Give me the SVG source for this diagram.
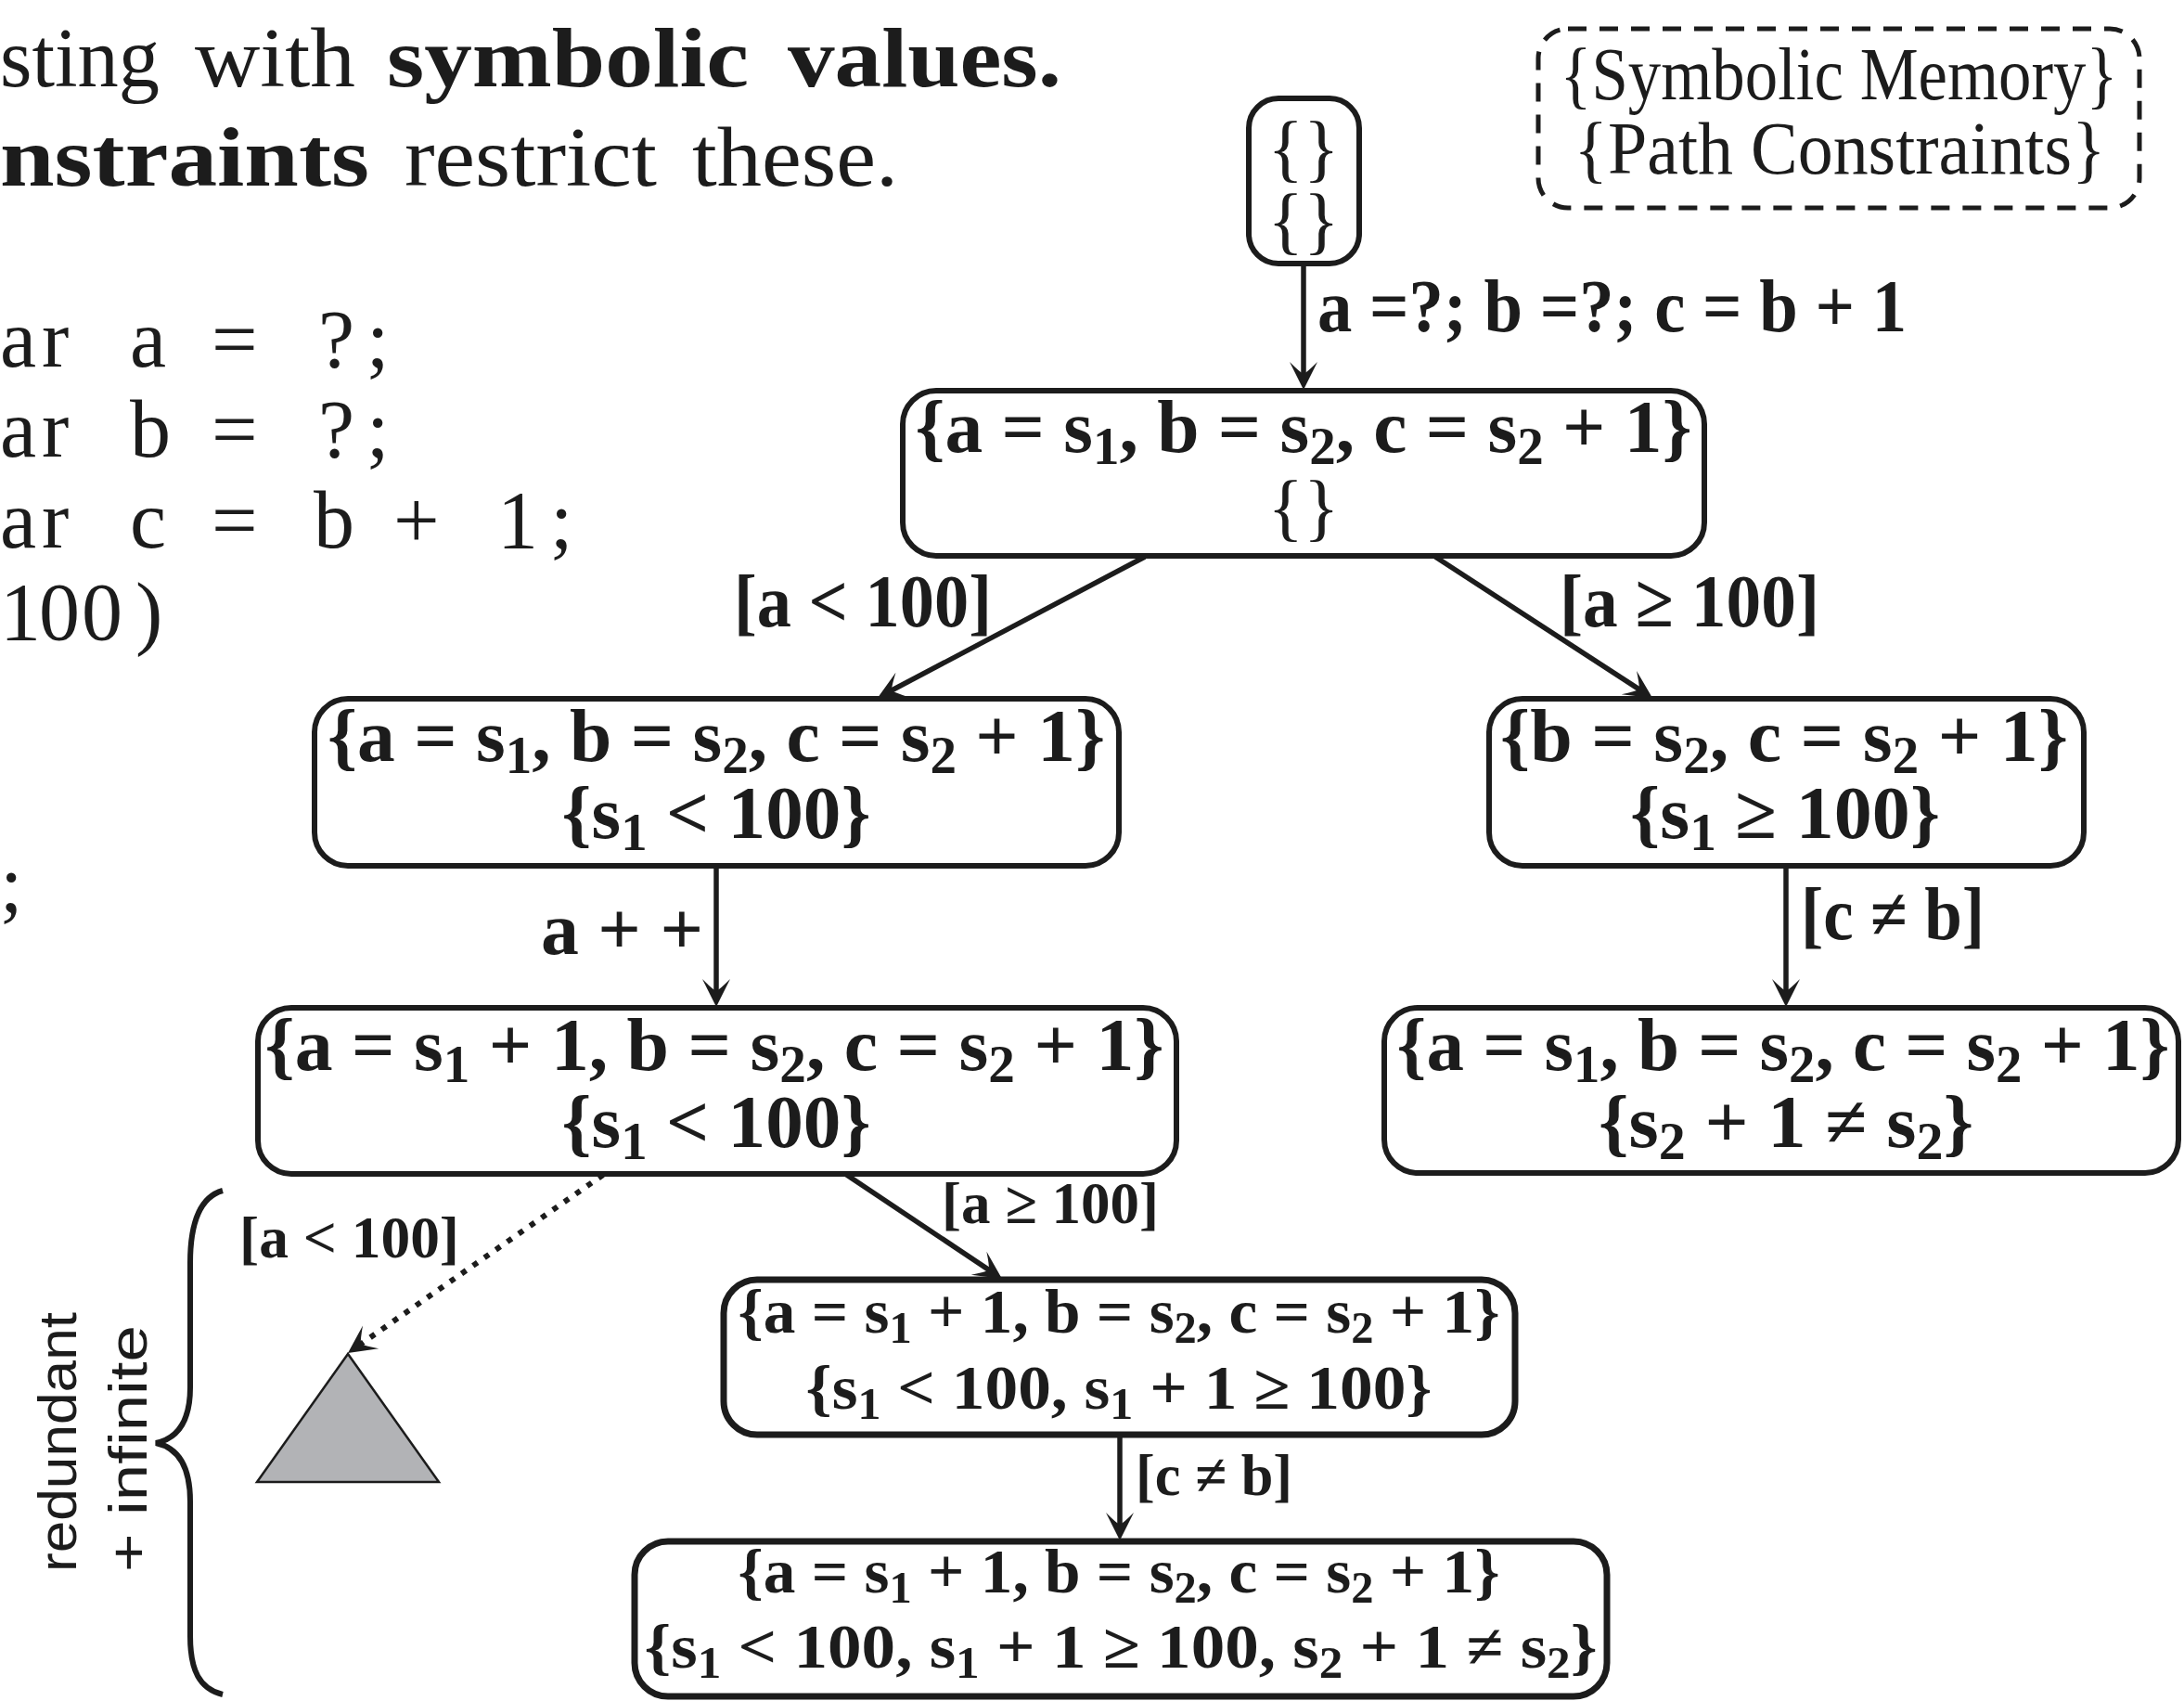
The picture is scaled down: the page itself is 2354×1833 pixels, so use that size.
<svg xmlns="http://www.w3.org/2000/svg" width="2354" height="1833" viewBox="0 0 2354 1833">
<style>
.t{font-family:"Liberation Serif",serif;fill:#1c1c1c}
.m{font-family:"Liberation Serif",serif;font-weight:bold;font-size:80px;text-anchor:middle;fill:#1c1c1c}
.sm{font-size:68px}
.n{font-weight:normal}
.lab{font-family:"Liberation Serif",serif;font-weight:bold;font-size:80px;fill:#1c1c1c}
.lab2{font-size:64px}
.sub{font-size:70%;baseline-shift:-13px}
.sm .sub{baseline-shift:-11px}
.box{fill:#fff;stroke:#1c1c1c;stroke-width:6}
.box2{fill:#fff;stroke:#1c1c1c;stroke-width:7}
.edge{fill:none;stroke:#1c1c1c;stroke-width:5.5;marker-end:url(#ah)}
.dot{stroke-dasharray:6 9;stroke-width:6}
.code{font-family:"Liberation Serif",serif;font-size:88px;fill:#1c1c1c}
.sans{font-family:"Liberation Sans",sans-serif;font-size:58px;fill:#1c1c1c}
</style>
<defs>
<marker id="ah" viewBox="-22 -16 34 32" refX="0" refY="0" markerWidth="34" markerHeight="32" markerUnits="userSpaceOnUse" orient="auto">
<path d="M10,0 L-20,-15 Q-9,-4 -7,0 Q-9,4 -20,15 Z" fill="#1c1c1c"/>
</marker>
</defs>
<rect width="2354" height="1833" fill="#fff"/>

<g id="heading">
<text class="t" font-size="90" y="93"><tspan x="0" textLength="172" lengthAdjust="spacingAndGlyphs">sting</tspan> <tspan x="210" textLength="173" lengthAdjust="spacingAndGlyphs">with</tspan> <tspan x="417" font-weight="bold" textLength="390" lengthAdjust="spacingAndGlyphs">symbolic</tspan> <tspan x="849" font-weight="bold" textLength="295" lengthAdjust="spacingAndGlyphs">values.</tspan></text>
<text class="t" font-size="90" y="200"><tspan x="0" font-weight="bold" textLength="398" lengthAdjust="spacingAndGlyphs">nstraints</tspan> <tspan x="436" textLength="272" lengthAdjust="spacingAndGlyphs">restrict</tspan> <tspan x="746" textLength="222" lengthAdjust="spacingAndGlyphs">these.</tspan></text>
</g>

<g id="code">
<text class="code" y="395" x="0 45 95 140 190 228 300 343 395" xml:space="preserve">ar a = ?;</text>
<text class="code" y="492" x="0 45 95 140 190 228 300 343 395" xml:space="preserve">ar b = ?;</text>
<text class="code" y="590" x="0 45 95 140 190 228 300 338 390 424 500 536 593" xml:space="preserve">ar c = b + 1;</text>
<text class="code" y="689" x="0 42 88 146">100)</text>
<text class="code" y="982" x="0">;</text>
</g>

<g id="legend">
<rect x="1658" y="31" width="648" height="193" rx="32" fill="none" stroke="#1c1c1c" stroke-width="5" stroke-dasharray="20 14"/>
<text class="m n" font-size="74" x="1982" y="107" textLength="601" lengthAdjust="spacingAndGlyphs">{Symbolic Memory}</text>
<text class="m n" font-size="74" x="1983" y="187" textLength="573" lengthAdjust="spacingAndGlyphs">{Path Constraints}</text>
</g>

<g id="connectors">
<path class="edge" d="M1405,284 V410"/>
<path class="edge" d="M1234,600 L954.8,747.3"/>
<path class="edge" d="M1547,600 L1772.6,746.6"/>
<path class="edge" d="M772,933 V1075"/>
<path class="edge" d="M1925,933 V1075"/>
<path class="edge" d="M911,1265 L1071.7,1372.4"/>
<path class="edge dot" d="M650,1266 L383.2,1452.3"/>
<path class="edge" d="M1207,1547 V1650"/>
<text class="lab" font-size="75" x="1420" y="357" textLength="635" lengthAdjust="spacingAndGlyphs">a =?; b =?; c = b + 1</text>
<text class="lab" x="791" y="675" textLength="278" lengthAdjust="spacingAndGlyphs">[a &lt; 100]</text>
<text class="lab" x="1681" y="675" textLength="280" lengthAdjust="spacingAndGlyphs">[a ≥ 100]</text>
<text class="lab" x="583" y="1028" textLength="175" lengthAdjust="spacingAndGlyphs">a + +</text>
<text class="lab" x="1941" y="1012" textLength="198" lengthAdjust="spacingAndGlyphs">[c ≠ b]</text>
<text class="lab lab2" x="258" y="1355" textLength="237" lengthAdjust="spacingAndGlyphs">[a &lt; 100]</text>
<text class="lab lab2" x="1015" y="1318" textLength="234" lengthAdjust="spacingAndGlyphs">[a ≥ 100]</text>
<text class="lab lab2" x="1224" y="1611" textLength="169" lengthAdjust="spacingAndGlyphs">[c ≠ b]</text>
</g>

<g id="root">
<rect class="box" x="1346" y="106" width="119" height="178" rx="32"/>
<text class="m n" font-size="78" x="1405" y="186">{}</text>
<text class="m n" font-size="78" x="1405" y="264">{}</text>
</g>

<g id="n1">
<rect class="box" x="973" y="421" width="864" height="178" rx="36"/>
<text class="m" x="1405" y="487" textLength="837" lengthAdjust="spacingAndGlyphs">{a = s<tspan class="sub">1</tspan>, b = s<tspan class="sub">2</tspan>, c = s<tspan class="sub">2</tspan> + 1}</text>
<text class="m n" x="1405" y="573">{}</text>
</g>

<g id="n2">
<rect class="box" x="339" y="753" width="867" height="180" rx="36"/>
<text class="m" x="772" y="820" textLength="838" lengthAdjust="spacingAndGlyphs">{a = s<tspan class="sub">1</tspan>, b = s<tspan class="sub">2</tspan>, c = s<tspan class="sub">2</tspan> + 1}</text>
<text class="m" x="772" y="903" textLength="333" lengthAdjust="spacingAndGlyphs">{s<tspan class="sub">1</tspan> &lt; 100}</text>
</g>

<g id="n3">
<rect class="box" x="1605" y="753" width="641" height="180" rx="36"/>
<text class="m" x="1923" y="820" textLength="612" lengthAdjust="spacingAndGlyphs">{b = s<tspan class="sub">2</tspan>, c = s<tspan class="sub">2</tspan> + 1}</text>
<text class="m" x="1924" y="903" textLength="334" lengthAdjust="spacingAndGlyphs">{s<tspan class="sub">1</tspan> ≥ 100}</text>
</g>

<g id="n4">
<rect class="box" x="1492" y="1086" width="856" height="178" rx="36"/>
<text class="m" x="1922" y="1153" textLength="833" lengthAdjust="spacingAndGlyphs">{a = s<tspan class="sub">1</tspan>, b = s<tspan class="sub">2</tspan>, c = s<tspan class="sub">2</tspan> + 1}</text>
<text class="m" x="1925" y="1236" textLength="404" lengthAdjust="spacingAndGlyphs">{s<tspan class="sub">2</tspan> + 1 ≠ s<tspan class="sub">2</tspan>}</text>
</g>

<g id="n5">
<rect class="box" x="278" y="1086" width="990" height="179" rx="36"/>
<text class="m" x="770" y="1153" textLength="969" lengthAdjust="spacingAndGlyphs">{a = s<tspan class="sub">1</tspan> + 1, b = s<tspan class="sub">2</tspan>, c = s<tspan class="sub">2</tspan> + 1}</text>
<text class="m" x="772" y="1236" textLength="333" lengthAdjust="spacingAndGlyphs">{s<tspan class="sub">1</tspan> &lt; 100}</text>
</g>

<g id="n6">
<rect class="box2" x="780" y="1379" width="853" height="167" rx="36"/>
<text class="m sm" x="1206" y="1436" textLength="821" lengthAdjust="spacingAndGlyphs">{a = s<tspan class="sub">1</tspan> + 1, b = s<tspan class="sub">2</tspan>, c = s<tspan class="sub">2</tspan> + 1}</text>
<text class="m sm" x="1206" y="1518" textLength="675" lengthAdjust="spacingAndGlyphs">{s<tspan class="sub">1</tspan> &lt; 100, s<tspan class="sub">1</tspan> + 1 ≥ 100}</text>
</g>

<g id="n7">
<rect class="box2" x="684" y="1661" width="1048" height="167" rx="36"/>
<text class="m sm" x="1206" y="1716" textLength="821" lengthAdjust="spacingAndGlyphs">{a = s<tspan class="sub">1</tspan> + 1, b = s<tspan class="sub">2</tspan>, c = s<tspan class="sub">2</tspan> + 1}</text>
<text class="m sm" x="1208" y="1797" textLength="1027" lengthAdjust="spacingAndGlyphs">{s<tspan class="sub">1</tspan> &lt; 100, s<tspan class="sub">1</tspan> + 1 ≥ 100, s<tspan class="sub">2</tspan> + 1 ≠ s<tspan class="sub">2</tspan>}</text>
</g>

<g id="subtree">
<polygon points="375,1459 277,1597 473,1597" fill="#b2b3b6" stroke="#1c1c1c" stroke-width="2.5"/>
</g>

<g id="brace-note">
<path d="M240,1283 C215,1290 205,1320 205,1361 L205,1495 C205,1530 192,1550 168,1555 C192,1560 205,1580 205,1618 L205,1763 C205,1800 215,1820 240,1826" fill="none" stroke="#1c1c1c" stroke-width="6"/>
<text class="sans" transform="translate(82,1694) rotate(-90)" textLength="280" lengthAdjust="spacingAndGlyphs">redundant</text>
<text class="sans" transform="translate(158,1694) rotate(-90)" textLength="266" lengthAdjust="spacingAndGlyphs">+ infinite</text>
</g>
</svg>
